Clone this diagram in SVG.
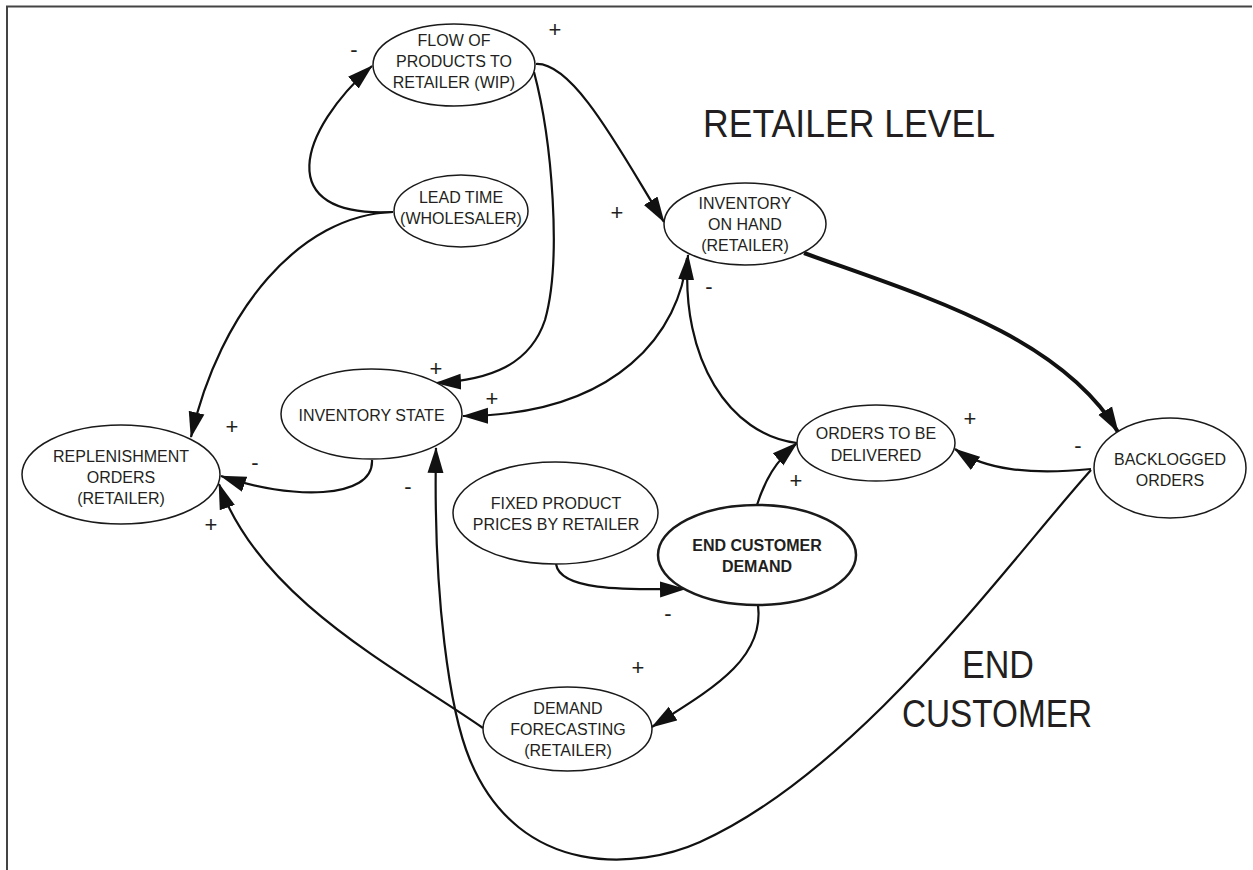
<svg xmlns="http://www.w3.org/2000/svg" width="1253" height="870" viewBox="0 0 1253 870">
<style>
.n ellipse{fill:#fff;stroke:#1a1a1a;stroke-width:1.5}
.t{font-family:"Liberation Sans",Arial,sans-serif;font-size:16px;fill:#231f20;text-anchor:middle}
.b{font-weight:bold}
.e{fill:none;stroke:#111;stroke-width:2.2;marker-end:url(#ah)}
.s{font-family:"Liberation Sans",Arial,sans-serif;font-size:22px;fill:#231f20;text-anchor:middle;dominant-baseline:central}
.big{font-family:"Liberation Sans",Arial,sans-serif;font-size:39px;fill:#231f20}
</style>
<defs>
<marker id="ah" markerUnits="userSpaceOnUse" markerWidth="26" markerHeight="18" viewBox="0 0 26 18" refX="25" refY="9" orient="auto">
<path d="M0,1 L26,9 L0,17 z" fill="#111"/>
</marker>
</defs>
<rect width="1253" height="870" fill="#fff"/>
<path d="M7,870 V6.5 H1252" fill="none" stroke="#444" stroke-width="2"/>

<g id="connectors">
<path class="e" d="M393,212 C270,218 300,130 372,66"/>
<path class="e" d="M393,212 C300,215 220,310 191,437"/>
<path class="e" d="M536,64 C575,62 625,160 664,222"/>
<path class="e" d="M534,72 C552,140 562,260 545,320 C530,365 490,380 436,383"/>
<path class="e" d="M687,258 C680,330 620,415 463,416"/>
<path class="e" d="M797,443 C730,435 680,360 688,255"/>
<path class="e" style="stroke-width:4" d="M804,253 C920,295 1060,335 1118,432"/>
<path class="e" d="M1091,469 C1030,475 985,470 955,449"/>
<path class="e" d="M1091,470 C1010,560 860,770 700,842 C640,869 520,880 470,760 C450,712 433,600 436,448"/>
<path class="e" d="M757,505 C765,480 775,462 797,443"/>
<path class="e" d="M556,564 C560,590 620,590 685,589"/>
<path class="e" d="M758,605 C765,660 710,690 652,727"/>
<path class="e" d="M372,460 C374,500 290,500 221,476"/>
<path class="e" d="M483,728 C400,670 260,600 219,484"/>
</g>

<g id="flow" class="n"><ellipse cx="454" cy="65" rx="81" ry="41"/>
<text class="t" x="454" y="46">FLOW OF</text><text class="t" x="454" y="67">PRODUCTS TO</text><text class="t" x="454" y="88">RETAILER (WIP)</text></g>
<g id="leadtime" class="n"><ellipse cx="461" cy="211" rx="67" ry="36"/>
<text class="t" x="461" y="203">LEAD TIME</text><text class="t" x="461" y="224">(WHOLESALER)</text></g>
<g id="invhand" class="n"><ellipse cx="745" cy="224" rx="81" ry="41"/>
<text class="t" x="745" y="209">INVENTORY</text><text class="t" x="745" y="230">ON HAND</text><text class="t" x="745" y="251">(RETAILER)</text></g>
<g id="invstate" class="n"><ellipse cx="371.5" cy="414" rx="90.5" ry="45"/>
<text class="t" x="371.5" y="421">INVENTORY STATE</text></g>
<g id="replen" class="n"><ellipse cx="121" cy="474.5" rx="99" ry="49.5"/>
<text class="t" x="121" y="462">REPLENISHMENT</text><text class="t" x="121" y="483">ORDERS</text><text class="t" x="121" y="504">(RETAILER)</text></g>
<g id="orders" class="n"><ellipse cx="876" cy="443" rx="79" ry="38"/>
<text class="t" x="876" y="439">ORDERS TO BE</text><text class="t" x="876" y="461">DELIVERED</text></g>
<g id="backlog" class="n"><ellipse cx="1170" cy="468" rx="76" ry="50"/>
<text class="t" x="1170" y="465">BACKLOGGED</text><text class="t" x="1170" y="486">ORDERS</text></g>
<g id="fixed" class="n"><ellipse cx="555.5" cy="513" rx="102.5" ry="51"/>
<text class="t" x="556" y="509">FIXED PRODUCT</text><text class="t" x="556" y="530">PRICES BY RETAILER</text></g>
<g id="endcust" class="n"><ellipse cx="757" cy="555" rx="99" ry="50" style="stroke-width:2.5"/>
<text class="t b" x="757" y="551">END CUSTOMER</text><text class="t b" x="757" y="572">DEMAND</text></g>
<g id="forecast" class="n"><ellipse cx="567.5" cy="729" rx="84.5" ry="42"/>
<text class="t" x="568" y="714">DEMAND</text><text class="t" x="568" y="735">FORECASTING</text><text class="t" x="568" y="756">(RETAILER)</text></g>

<g id="signs">
<text class="s" x="354" y="49">-</text>
<text class="s" x="555" y="29">+</text>
<text class="s" x="617" y="212">+</text>
<text class="s" x="709" y="286">-</text>
<text class="s" x="436" y="368">+</text>
<text class="s" x="492" y="398">+</text>
<text class="s" x="232" y="426">+</text>
<text class="s" x="255" y="462">-</text>
<text class="s" x="211" y="524">+</text>
<text class="s" x="408" y="486">-</text>
<text class="s" x="796" y="480">+</text>
<text class="s" x="970" y="418">+</text>
<text class="s" x="1078" y="445">-</text>
<text class="s" x="668" y="613">-</text>
<text class="s" x="638" y="667">+</text>
</g>

<g id="labels">
<text class="big" x="703" y="137" textLength="292" lengthAdjust="spacingAndGlyphs">RETAILER LEVEL</text>
<text class="big" x="962" y="678" textLength="72" lengthAdjust="spacingAndGlyphs">END</text>
<text class="big" x="902" y="727" textLength="190" lengthAdjust="spacingAndGlyphs">CUSTOMER</text>
</g>
</svg>
